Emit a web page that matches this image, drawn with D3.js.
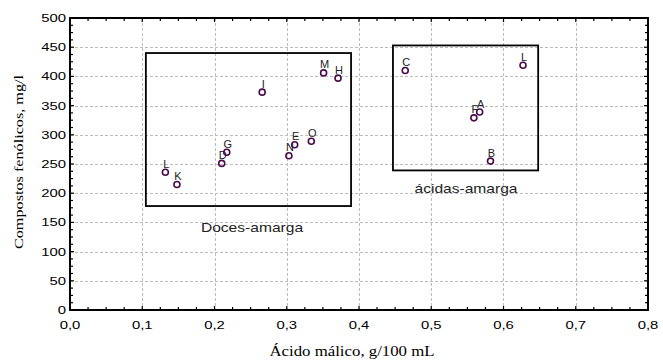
<!DOCTYPE html>
<html>
<head>
<meta charset="utf-8">
<script src="https://cdn.jsdelivr.net/npm/d3@7"></script>
<style>
  html, body { margin: 0; padding: 0; background: #fff; }
  svg { display: block; }
</style>
</head>
<body>
<svg id="chart" width="663" height="361"></svg>
<script>
// Sample codes with malic acid (g/100 mL) and phenolic compounds (mg/l)
const sampleLabels = ["L", "K", "D", "G", "I", "N", "E", "O", "M", "H", "C", "L", "A", "F", "B"];
const malicAcid    = [0.132, 0.148, 0.210, 0.217, 0.266, 0.303, 0.311, 0.334, 0.351, 0.371, 0.464, 0.627, 0.567, 0.559, 0.582];
const phenolics    = [236, 215, 251, 270, 373, 264, 283, 289, 406, 397, 410, 419, 339, 329, 255];

// Group frames
const groupNames = ["Doces-amarga", "ácidas-amarga"];
const groupXMin  = [0.105, 0.447];
const groupXMax  = [0.389, 0.648];
const groupYMin  = [178, 239];
const groupYMax  = [440, 453];

// Axis ticks
const xTicks = [0, 0.1, 0.2, 0.3, 0.4, 0.5, 0.6, 0.7, 0.8];
const yTicks = [0, 50, 100, 150, 200, 250, 300, 350, 400, 450, 500];

const svg = d3.select("#chart");
const plot = { left: 70, right: 648, top: 18, bottom: 310 };

const x = d3.scaleLinear().domain([0, 0.8]).range([plot.left, plot.right]);
const y = d3.scaleLinear().domain([0, 500]).range([plot.bottom, plot.top]);

const fmt = d => d3.format(".1f")(d).replace(".", ",");
const sans = "Liberation Sans, Arial, sans-serif";
const serif = "Liberation Serif, Times New Roman, serif";

// grid
const grid = svg.append("g").attr("stroke", "#bdbdbd").attr("stroke-width", 1)
  .attr("stroke-dasharray", "3,2").attr("fill", "none");
xTicks.slice(1, -1).forEach(t => {
  grid.append("line").attr("x1", Math.round(x(t)) + 0.5).attr("x2", Math.round(x(t)) + 0.5)
    .attr("y1", plot.top).attr("y2", plot.bottom);
});
yTicks.slice(1, -1).forEach(t => {
  grid.append("line").attr("y1", Math.round(y(t)) + 0.5).attr("y2", Math.round(y(t)) + 0.5)
    .attr("x1", plot.left).attr("x2", plot.right);
});

// inward ticks on all four sides (major + 4 minor intervals)
const xMinor = d3.range(0, 0.8001, 0.025);
const yMinor = d3.range(0, 500.01, 12.5);
const tickG = svg.append("g").attr("stroke", "#000").attr("stroke-width", 1.2);
xMinor.forEach((t, i) => {
  const len = i % 4 === 0 ? 4 : 3;
  tickG.append("line").attr("x1", x(t)).attr("x2", x(t)).attr("y1", plot.bottom).attr("y2", plot.bottom - len);
  tickG.append("line").attr("x1", x(t)).attr("x2", x(t)).attr("y1", plot.top).attr("y2", plot.top + len);
});
yMinor.forEach((t, i) => {
  const len = i % 4 === 0 ? 4 : 3;
  tickG.append("line").attr("y1", y(t)).attr("y2", y(t)).attr("x1", plot.left).attr("x2", plot.left + len);
  tickG.append("line").attr("y1", y(t)).attr("y2", y(t)).attr("x1", plot.right).attr("x2", plot.right - len);
});

// frame
svg.append("rect").attr("x", plot.left).attr("y", plot.top)
  .attr("width", plot.right - plot.left).attr("height", plot.bottom - plot.top)
  .attr("fill", "none").attr("stroke", "#000").attr("stroke-width", 2);

// helper for horizontally widened text
function wideText(g, tx, ty, str, size, family, anchor, sx) {
  return g.append("text")
    .attr("transform", `translate(${tx},${ty}) scale(${sx},1)`)
    .attr("text-anchor", anchor).attr("font-family", family).attr("font-size", size)
    .attr("fill", "#000").text(str);
}

// tick labels
const labels = svg.append("g");
xTicks.forEach(t => wideText(labels, x(t), 329, fmt(t), 11, sans, "middle", 1.35));
yTicks.forEach(t => wideText(labels, 66, y(t) + 4, String(t), 11, sans, "end", 1.35));

// group frames and names
groupNames.forEach((name, i) => {
  svg.append("rect")
    .attr("x", x(groupXMin[i])).attr("y", y(groupYMax[i]))
    .attr("width", x(groupXMax[i]) - x(groupXMin[i]))
    .attr("height", y(groupYMin[i]) - y(groupYMax[i]))
    .attr("fill", "none").attr("stroke", "#000").attr("stroke-width", 1.8);
});
wideText(svg, 252, 232, groupNames[0], 13, sans, "middle", 1.2).attr("fill", "#222");
wideText(svg, 466, 193, groupNames[1], 13, sans, "middle", 1.2).attr("fill", "#222");

// points
const pts = svg.append("g");
sampleLabels.forEach((lab, i) => {
  const cx = x(malicAcid[i]), cy = y(phenolics[i]);
  pts.append("circle").attr("cx", cx).attr("cy", cy).attr("r", 3)
    .attr("fill", "none").attr("stroke", "#4a0a4a").attr("stroke-width", 1.6);
  wideText(pts, cx + 1, cy - 4.5, lab, 10, sans, "middle", 1.1).attr("fill", "#222");
});

// axis titles
wideText(svg, 352, 356, "Ácido málico, g/100 mL", 14, serif, "middle", 1.2);
svg.append("text")
  .attr("transform", `translate(23,162) rotate(-90) scale(1.2,1)`)
  .attr("text-anchor", "middle").attr("font-family", serif).attr("font-size", 13.5)
  .attr("fill", "#000").text("Compostos fenólicos, mg/l");
</script>
</body>
</html>
